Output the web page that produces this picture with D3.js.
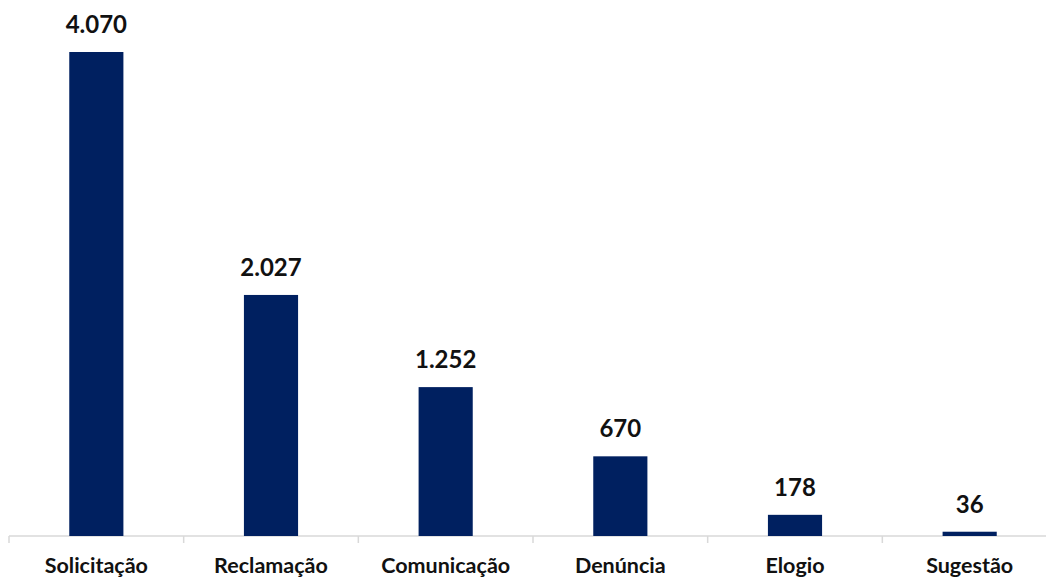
<!DOCTYPE html>
<html>
<head>
<meta charset="utf-8">
<script src="https://cdn.jsdelivr.net/npm/d3@7"></script>
<style>
  body { margin: 0; background: #fff; }
  text { font-family: Lato, "Open Sans", sans-serif; font-weight: bold; fill: #111; }
</style>
</head>
<body>
<svg id="chart" width="1046" height="579"></svg>
<script>
const categories = ["Solicitação", "Reclamação", "Comunicação", "Denúncia", "Elogio", "Sugestão"];
const values = [4070, 2027, 1252, 670, 178, 36];

const svg = d3.select("#chart");
const baseY = 536, topY = 52;

// pt-BR number format: 4.070
const br = d3.formatLocale({decimal: ",", thousands: ".", grouping: [3], currency: ["R$", ""]});
const fmt = br.format(",d");

const data = categories.map((c, i) => ({cat: c, value: values[i]}));

// scales
const x = d3.scaleBand().domain(categories).range([9, 1057]).paddingInner(0.69).paddingOuter(0.345);
const y = d3.scaleLinear().domain([0, d3.max(values)]).range([baseY, topY]);

// category axis with light grey line and ticks between bands
const axis = svg.append("g").attr("transform", `translate(0,${baseY})`);
axis.append("line")
    .attr("x1", 9).attr("x2", 1046)
    .attr("stroke", "#d9d9d9").attr("stroke-width", 1.5);
const step = x.step();
axis.selectAll("line.tick")
    .data(d3.range(categories.length))
    .join("line")
    .attr("class", "tick")
    .attr("x1", i => 9 + i * step).attr("x2", i => 9 + i * step)
    .attr("y1", 0).attr("y2", 7)
    .attr("stroke", "#d9d9d9").attr("stroke-width", 1.5);

axis.selectAll("text.cat")
    .data(categories)
    .join("text")
    .attr("class", "cat")
    .attr("x", d => x(d) + x.bandwidth() / 2)
    .attr("y", 37)
    .attr("text-anchor", "middle")
    .attr("font-size", 21.5)
    .text(d => d);

// bars
svg.selectAll("rect.bar")
    .data(data)
    .join("rect")
    .attr("class", "bar")
    .attr("x", d => x(d.cat))
    .attr("width", x.bandwidth())
    .attr("y", d => y(d.value))
    .attr("height", d => baseY - y(d.value))
    .attr("fill", "#002060");

// value labels
svg.selectAll("text.val")
    .data(data)
    .join("text")
    .attr("class", "val")
    .attr("x", d => x(d.cat) + x.bandwidth() / 2)
    .attr("y", d => y(d.value) - 19)
    .attr("text-anchor", "middle")
    .attr("font-size", 24)
    .text(d => fmt(d.value));
</script>
</body>
</html>
